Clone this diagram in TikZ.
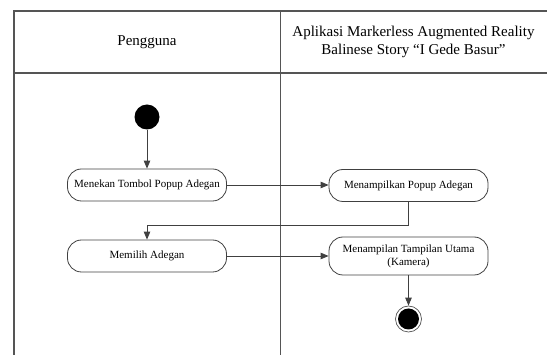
\documentclass[tikz,border=0pt]{standalone}
\usepackage{fontspec}
\setmainfont{Liberation Serif}
\usetikzlibrary{arrows.meta}
\definecolor{linegray}{HTML}{404040}
\definecolor{framegray}{HTML}{555555}
\tikzset{
  lane/.style={draw=framegray, line width=1.1pt},
  activity/.style={draw=linegray, line width=0.8pt, rounded corners=14pt,
    minimum width=159pt, align=center, font=\fontsize{11}{13}\selectfont, inner sep=2pt},
  flow/.style={draw=linegray, line width=0.9pt,
    -{Triangle[length=8pt,width=6.5pt]}},
  header/.style={align=center, font=\fontsize{15}{18.5}\selectfont}
}
\begin{document}
\begin{tikzpicture}[x=1pt, y=-1pt]
  \useasboundingbox (0,0) rectangle (547,355);

  % swimlane frame
  \draw[lane] (14,355) -- (14,11) -- (547,11);
  \draw[lane] (14,73) -- (547,73);
  \draw[lane] (280.5,11) -- (280.5,355);

  % lane titles
  \node[header] (h1) at (147,42) {Pengguna};
  \node[header] (h2) at (413.5,42) {Aplikasi Markerless Augmented Reality\\Balinese Story “I Gede Basur”};

  % start and end states
  \node[circle, fill=black, minimum size=25pt, inner sep=0pt] (start) at (147,117) {};
  \node[circle, draw=framegray, line width=0.7pt, minimum size=26pt, inner sep=0pt] (endo) at (408.5,319) {};
  \node[circle, fill=black, minimum size=21pt, inner sep=0pt] (endi) at (408.5,319) {};

  % activities
  \node[activity, minimum height=32pt] (a1) at (147,185) {Menekan Tombol Popup Adegan};
  \node[activity, minimum height=32pt] (a2) at (147,256) {Memilih Adegan};
  \node[activity, minimum height=32pt] (b1) at (408.5,185.5) {Menampilkan Popup Adegan};
  \node[activity, minimum height=38pt] (b2) at (408.5,256) {Menampilan Tampilan Utama\\(Kamera)};

  % control flow
  \coordinate (t1) at (408.5,225);
  \coordinate (t2) at (147,225);
  \draw[flow] (start) -- (a1);
  \draw[flow] (a1) -- (b1.west |- a1);
  \draw[flow] (b1) -- (t1) -- (t2) -- (a2);
  \draw[flow] (a2) -- (b2.west |- a2);
  \draw[flow] (b2) -- (endo);
\end{tikzpicture}
\end{document}
